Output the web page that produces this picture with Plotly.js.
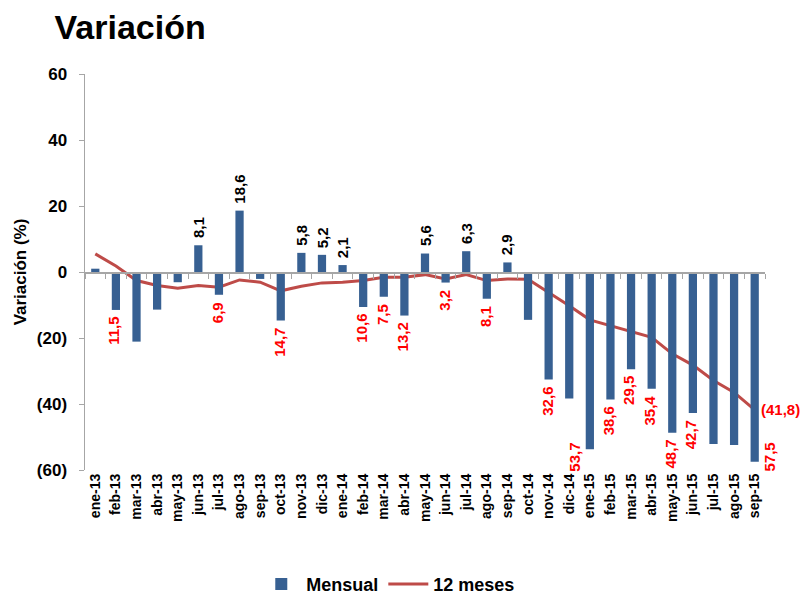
<!DOCTYPE html>
<html>
<head>
<meta charset="utf-8">
<script src="https://cdn.plot.ly/plotly-3.0.1.min.js"></script>
<style>
  html, body { margin: 0; padding: 0; background: #fff; }
  #chart { width: 802px; height: 595px; }
</style>
</head>
<body>
<div id="chart"></div>
<script>
// Meses (ene-13 ... sep-15)
const meses = [
  'ene-13', 'feb-13', 'mar-13', 'abr-13', 'may-13', 'jun-13', 'jul-13', 'ago-13', 'sep-13',
  'oct-13', 'nov-13', 'dic-13', 'ene-14', 'feb-14', 'mar-14', 'abr-14', 'may-14', 'jun-14',
  'jul-14', 'ago-14', 'sep-14', 'oct-14', 'nov-14', 'dic-14', 'ene-15', 'feb-15', 'mar-15',
  'abr-15', 'may-15', 'jun-15', 'jul-15', 'ago-15', 'sep-15'
];

// Variación mensual (%)
const mensual = [
  1.0, -11.5, -21.1, -11.4, -3.1, 8.1, -6.9, 18.6, -2.1,
  -14.7, 5.8, 5.2, 2.1, -10.6, -7.5, -13.2, 5.6, -3.2,
  6.3, -8.1, 2.9, -14.5, -32.6, -38.3, -53.7, -38.6, -29.5,
  -35.4, -48.7, -42.7, -52.1, -52.4, -57.5
];

// Variación 12 meses (%)
const doceMeses = [
  5.5, 1.8, -2.6, -4.1, -4.9, -4.1, -4.6, -2.4, -3.1,
  -5.7, -4.3, -3.3, -3.1, -2.6, -1.6, -1.6, -0.8, -2.1,
  -0.8, -2.6, -2.1, -2.2, -6.2, -10.2, -14.5, -16.3, -18.1,
  -19.8, -24.8, -28.2, -32.9, -36.5, -41.8
];

// meses cuyas barras llevan etiqueta
const conEtiqueta = [
  'feb-13', 'jun-13', 'jul-13', 'ago-13', 'oct-13', 'nov-13', 'dic-13', 'ene-14',
  'feb-14', 'mar-14', 'abr-14', 'may-14', 'jun-14', 'jul-14', 'ago-14', 'sep-14',
  'nov-14', 'ene-15', 'feb-15', 'mar-15', 'abr-15', 'may-15', 'jun-15', 'sep-15'
];

const fuente = 'Liberation Sans, Arial, sans-serif';
const gris = '#A6A6A6';
const fmt = v => Math.abs(v).toFixed(1).replace('.', ',');

// etiquetas de datos (rotadas)
const anotaciones = [];
meses.forEach((m, i) => {
  if (!conEtiqueta.includes(m)) return;
  const v = mensual[i];
  if (v >= 0) {
    anotaciones.push({
      x: m, y: v, xref: 'x', yref: 'y', text: fmt(v), showarrow: false,
      textangle: -90, yanchor: 'bottom', xanchor: 'center', yshift: 5,
      font: { family: fuente, size: 15, color: '#000', weight: 'bold' }
    });
  } else {
    // las etiquetas muy bajas se suben y se apartan de la barra
    const tope = Math.max(v, -51);
    const lado = i === meses.length - 1 ? 15 : -15;
    anotaciones.push({
      x: m, y: tope, xref: 'x', yref: 'y', text: fmt(v), showarrow: false,
      textangle: -90, yanchor: 'top', xanchor: 'center',
      yshift: tope === v ? -5 : 0, xshift: tope === v ? -2 : lado,
      font: { family: fuente, size: 15, color: '#FF0000', weight: 'bold' }
    });
  }
});

// etiqueta del último dato de 12 meses
const ultimo = doceMeses[doceMeses.length - 1];
anotaciones.push({
  x: meses[meses.length - 1], y: ultimo, xref: 'x', yref: 'y',
  text: '(' + fmt(ultimo) + ')', showarrow: false, xanchor: 'left', yanchor: 'middle', xshift: 4,
  font: { family: fuente, size: 15, color: '#FF0000', weight: 'bold' }
});

const data = [
  {
    type: 'bar', name: 'Mensual', x: meses, y: mensual,
    xaxis: 'x2', yaxis: 'y',
    marker: { color: '#376092' },
    hoverinfo: 'x+y'
  },
  {
    type: 'scatter', mode: 'lines', name: '12 meses', x: meses, y: doceMeses,
    xaxis: 'x', yaxis: 'y',
    line: { color: '#BE4B48', width: 3 }
  }
];

const layout = {
  width: 802,
  height: 595,
  margin: { l: 85, r: 37, t: 74, b: 125, autoexpand: false },
  paper_bgcolor: '#fff',
  plot_bgcolor: '#fff',
  bargap: 0.6,
  title: {
    text: 'Variación',
    x: 0.068, xanchor: 'left', y: 0.955, yanchor: 'middle',
    font: { family: fuente, size: 34, color: '#000', weight: 'bold' }
  },
  xaxis: {
    type: 'category',
    range: [-0.5, meses.length - 0.5],
    automargin: false,
    showline: false, showgrid: false, zeroline: false, ticks: '',
    tickangle: -90,
    tickfont: { family: fuente, size: 14, color: '#000', weight: 'bold' }
  },
  xaxis2: {
    type: 'category',
    overlaying: 'x', anchor: 'free', position: 0.5,
    range: [-0.5, meses.length - 0.5],
    showline: true, linecolor: gris, linewidth: 1.5,
    ticks: 'outside', ticklen: 5, tickcolor: gris, tickson: 'boundaries',
    showticklabels: false, showgrid: false, zeroline: false
  },
  yaxis: {
    range: [-60, 60],
    automargin: false,
    tickvals: [-60, -40, -20, 0, 20, 40, 60],
    ticktext: ['(60)', '(40)', '(20)', '0', '20', '40', '60'],
    showline: true, linecolor: gris, linewidth: 1.5,
    ticks: 'outside', ticklen: 5, tickcolor: gris,
    showgrid: false, zeroline: false,
    ticklabelstandoff: 8,
    tickfont: { family: fuente, size: 17, color: '#000', weight: 'bold' },
    title: {
      text: 'Variación (%)', standoff: 6,
      font: { family: fuente, size: 17, color: '#000', weight: 'bold' }
    }
  },
  showlegend: true,
  legend: {
    orientation: 'h',
    x: 0.446, xanchor: 'center',
    yref: 'container', y: 0.018, yanchor: 'middle',
    font: { family: fuente, size: 18, color: '#000', weight: 'bold' },
    itemwidth: 40
  },
  annotations: anotaciones
};

Plotly.newPlot('chart', data, layout, { displayModeBar: false, staticPlot: true });
</script>
</body>
</html>
